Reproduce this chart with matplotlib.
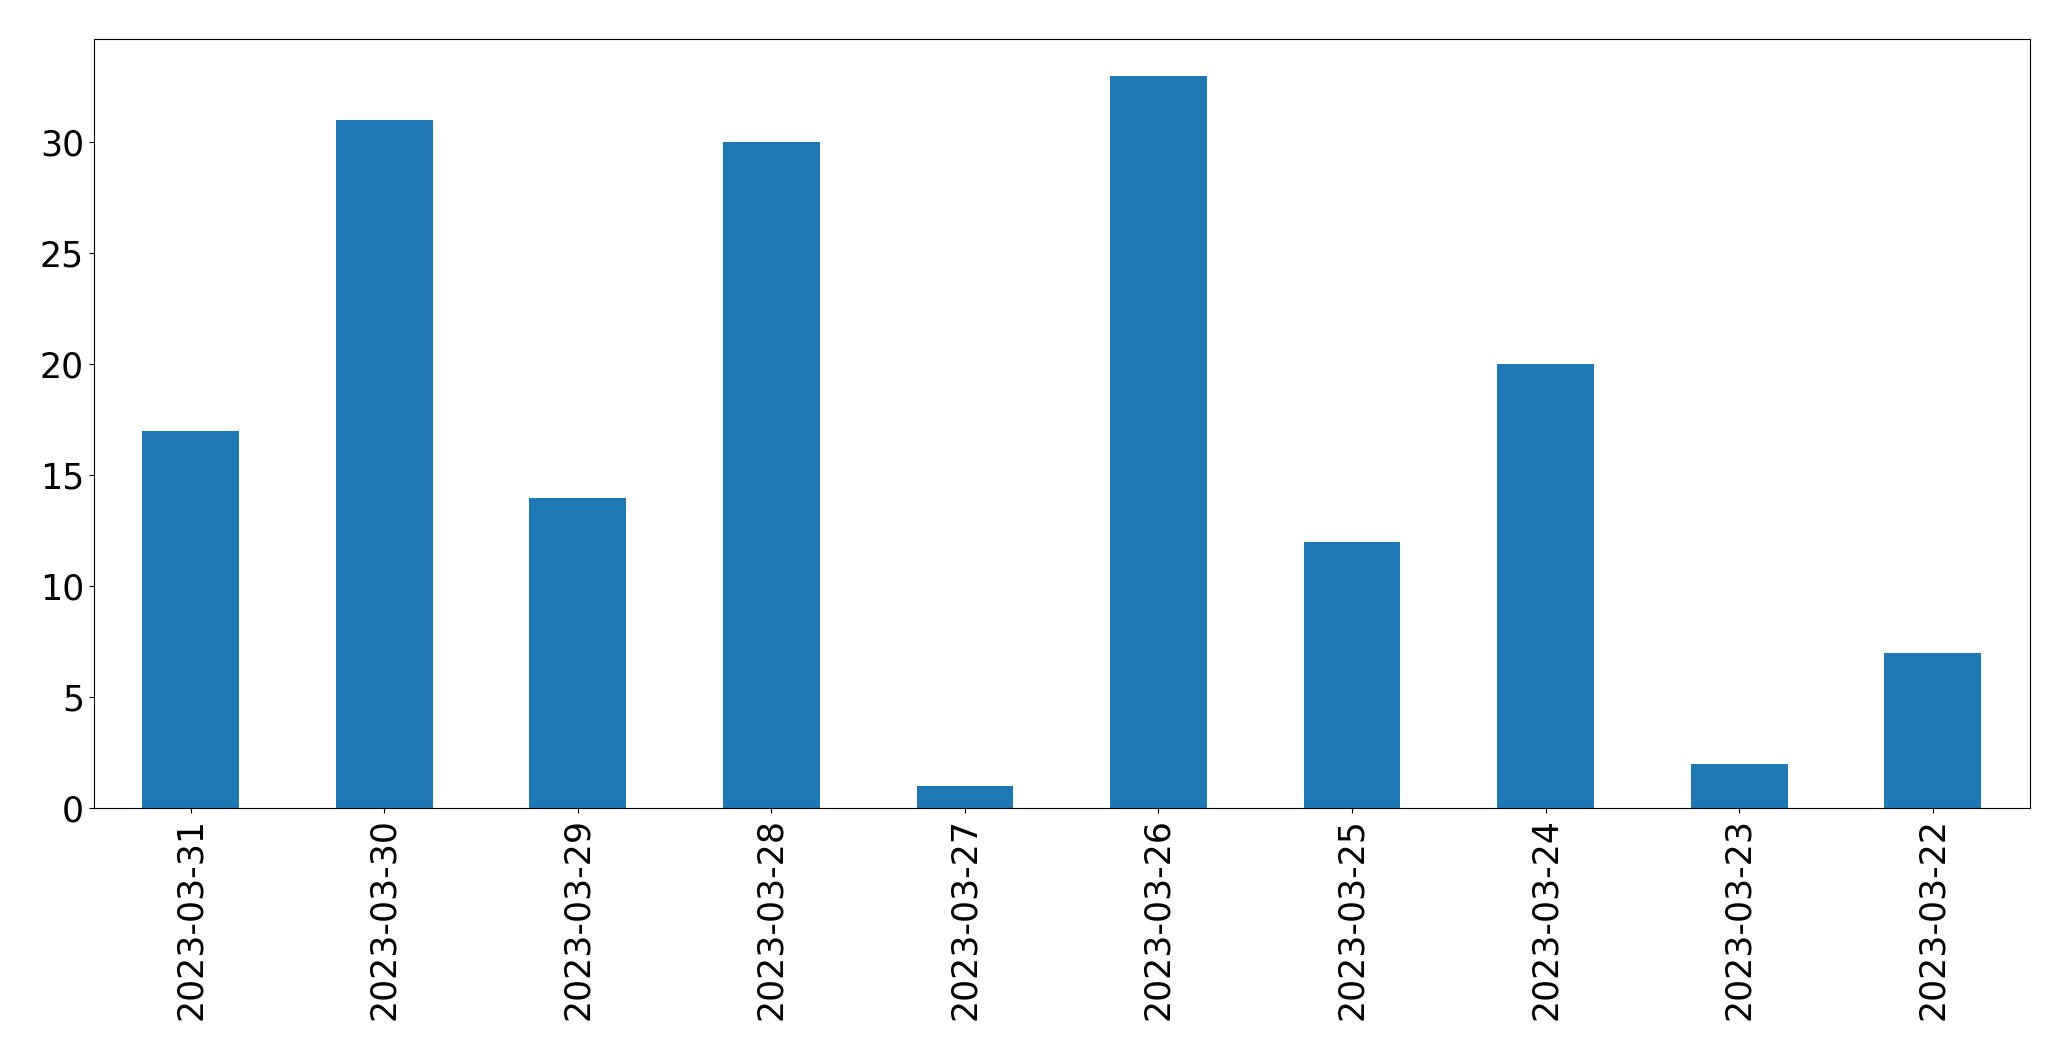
import matplotlib
matplotlib.use("Agg")
import matplotlib.pyplot as plt

dates = ["2023-03-31", "2023-03-30", "2023-03-29", "2023-03-28", "2023-03-27",
         "2023-03-26", "2023-03-25", "2023-03-24", "2023-03-23", "2023-03-22"]
counts = [17, 31, 14, 30, 1, 33, 12, 20, 2, 7]

fig = plt.figure(figsize=(20.71, 10.61), dpi=100)
ax = fig.add_axes([0.0453, 0.238, 0.9347, 0.725])
x = list(range(len(dates)))
ax.bar(x, counts, width=0.5, color="#1f77b4", linewidth=0)
ax.set_xticks(x)
ax.set_xticklabels(dates, rotation=90)
ax.set_xlim(-0.5, len(dates) - 0.5)
ax.tick_params(labelsize=25)
fig.savefig("out.png", dpi=100)
